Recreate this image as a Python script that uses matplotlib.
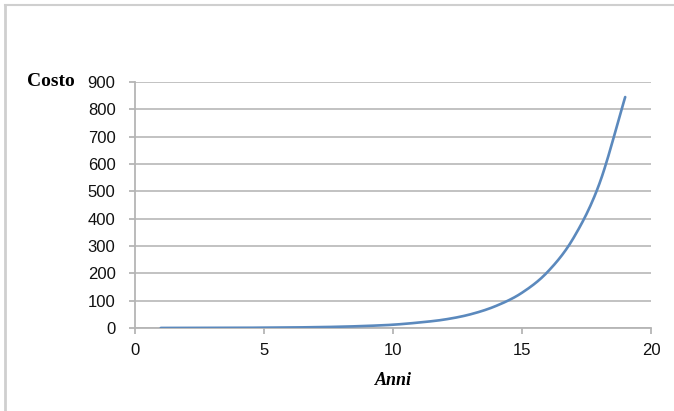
import numpy as np
import matplotlib
matplotlib.use("Agg")
import matplotlib.pyplot as plt
from matplotlib.lines import Line2D

# values
anni = [1, 2, 3, 4, 5, 6, 7, 8, 9, 10, 11, 12, 13, 14, 15, 16, 17, 18, 19]
costo = [0.2, 0.3, 0.5, 0.7, 1.2, 1.9, 3.0, 4.8, 7.7, 12, 20, 31, 50, 81,
         129, 206, 330, 528, 845]
xticks = [0, 5, 10, 15, 20]
yticks = [0, 100, 200, 300, 400, 500, 600, 700, 800, 900]


def smooth(x, y, n=20):
    # Catmull-Rom spline through the points, like a smoothed spreadsheet line
    x = np.asarray(x, float); y = np.asarray(y, float)
    px = np.concatenate([[2 * x[0] - x[1]], x, [2 * x[-1] - x[-2]]])
    py = np.concatenate([[2 * y[0] - y[1]], y, [2 * y[-1] - y[-2]]])
    t = np.linspace(0, 1, n, endpoint=False)[:, None]
    def seg(p):
        p0, p1, p2, p3 = p[:-3], p[1:-2], p[2:-1], p[3:]
        return 0.5 * (2 * p1 + (-p0 + p2) * t + (2 * p0 - 5 * p1 + 4 * p2 - p3) * t ** 2
                      + (-p0 + 3 * p1 - 3 * p2 + p3) * t ** 3)
    sx = np.append(seg(px).T.ravel(), x[-1])
    sy = np.append(seg(py).T.ravel(), y[-1])
    return sx, sy


fig = plt.figure(figsize=(6.74, 4.11), dpi=100)
ax = fig.add_axes([135 / 674, 1 - 328 / 411, 516 / 674, 246 / 411])

sx, sy = smooth(anni, costo)
ax.plot(sx, sy, color="#5b89bd", lw=1.9, solid_capstyle="round", zorder=3)

ax.set_xlim(0, 20); ax.set_ylim(0, 900)
ax.set_xticks(xticks); ax.set_yticks(yticks)
ax.grid(axis="y", color="#bdbdbd", lw=1.3)
ax.set_axisbelow(True)
for s in ["top", "right"]:
    ax.spines[s].set_visible(False)
for s in ["left", "bottom"]:
    ax.spines[s].set_color("#b5b5b5"); ax.spines[s].set_linewidth(1.3)
ax.tick_params(colors="#b5b5b5", width=1.3, length=4, labelcolor="#111111",
               labelsize=12)
ax.tick_params(axis="y", pad=10)
ax.tick_params(axis="x", pad=7)
for lbl in ax.get_xticklabels() + ax.get_yticklabels():
    lbl.set_family("Liberation Sans")

fig.text(51 / 674, 1 - 82 / 411, "Costo", family="Liberation Serif",
         weight="bold", fontsize=14, ha="center", va="center")
fig.text(393 / 674, 1 - 380 / 411, "Anni", family="Liberation Serif",
         weight="bold", style="italic", fontsize=13, ha="center", va="center")

# thin frame lines at the top and left edges of the picture
fig.add_artist(Line2D([5 / 674, 5 / 674], [0, 1 - 5 / 411], color="#cfcfcf", lw=2,
                      transform=fig.transFigure))
fig.add_artist(Line2D([5 / 674, 1], [1 - 5 / 411, 1 - 5 / 411], color="#cfcfcf",
                      lw=1.5, transform=fig.transFigure))

fig.savefig("out.png", dpi=100)
